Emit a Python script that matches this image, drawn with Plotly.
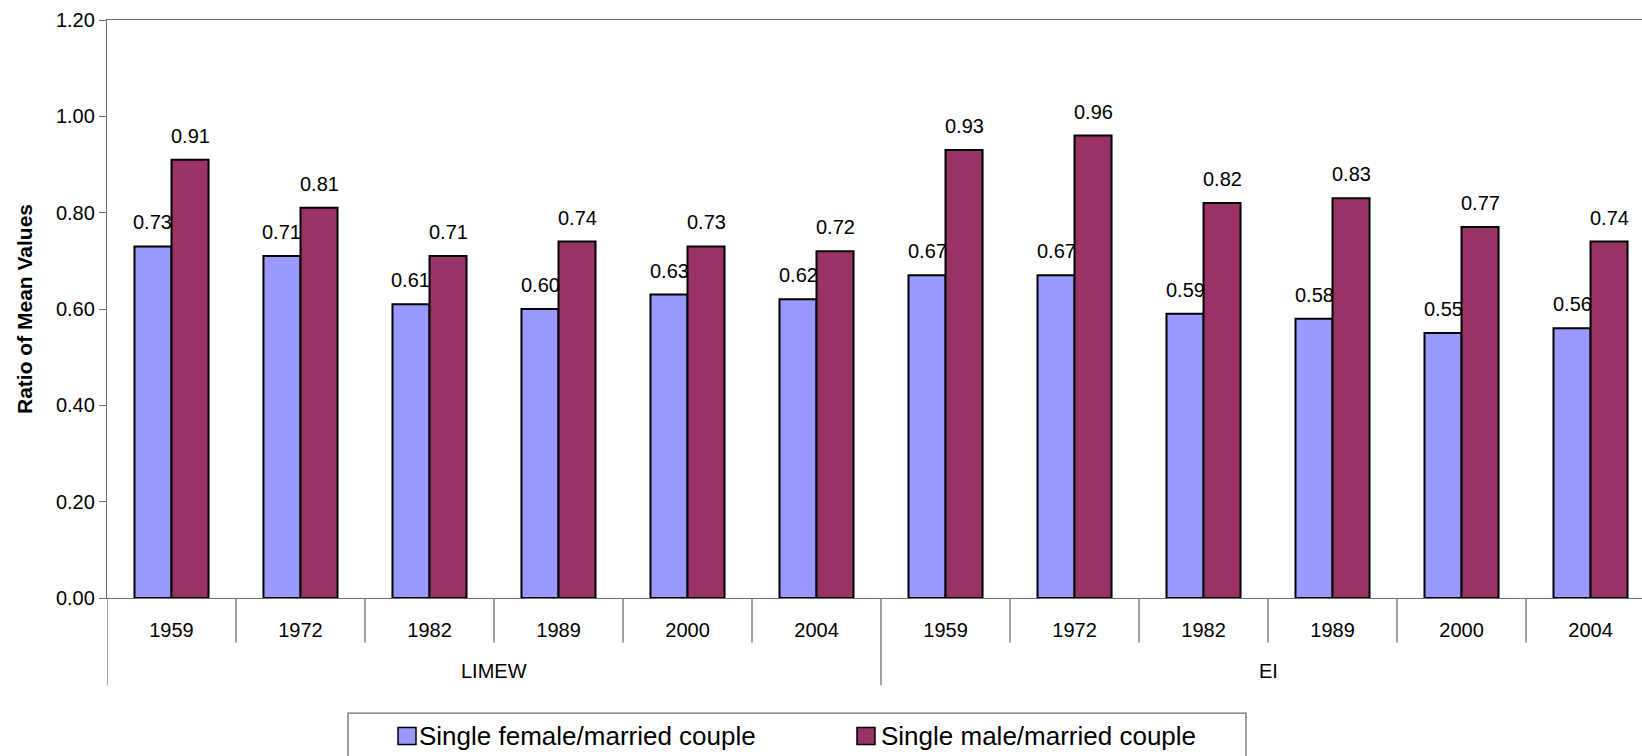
import plotly.graph_objects as go

# Category structure: two income measures, six survey years each
groups = ["LIMEW", "EI"]
years = ["1959", "1972", "1982", "1989", "2000", "2004"]

# Ratio of mean values, per group then year
female_ratio = [0.73, 0.71, 0.61, 0.60, 0.63, 0.62,
                0.67, 0.67, 0.59, 0.58, 0.55, 0.56]
male_ratio = [0.91, 0.81, 0.71, 0.74, 0.73, 0.72,
              0.93, 0.96, 0.82, 0.83, 0.77, 0.74]

series_names = ["Single female/married couple", "Single male/married couple"]
series_colors = ["#9999FF", "#993366"]

FONT = "Liberation Sans, Arial, sans-serif"
AXIS_GREY = "#6e6e6e"

n_cat = len(groups) * len(years)
positions = list(range(n_cat))
tick_text = years * len(groups)

BAR_GAP = 0.426
offset = (1 - BAR_GAP) / 4  # centre offset of each bar in a pair

fig = go.Figure()
for name, vals, col in zip(series_names, [female_ratio, male_ratio], series_colors):
    fig.add_trace(go.Bar(
        x=positions, y=vals, name=name,
        marker=dict(color=col, line=dict(color="black", width=2)),
        showlegend=False,
    ))

annotations = []
# value labels above each bar
for sign, vals in zip([-1, 1], [female_ratio, male_ratio]):
    for i, v in enumerate(vals):
        annotations.append(dict(
            x=i + sign * offset, y=v, xref="x", yref="y",
            text=f"{v:.2f}", showarrow=False, yanchor="bottom", yshift=11,
            font=dict(family=FONT, size=20, color="black"),
        ))

# group labels under the year labels
for g, name in enumerate(groups):
    centre = g * len(years) + (len(years) - 1) / 2
    annotations.append(dict(
        x=centre, y=-0.1264, xref="x", yref="paper", text=name,
        showarrow=False, yanchor="middle",
        font=dict(family=FONT, size=20, color="black"),
    ))

shapes = []
# separators between year categories and between groups
for b in range(n_cat + 1):
    is_group_edge = b % len(years) == 0
    shapes.append(dict(
        type="line", xref="x", yref="paper",
        x0=b - 0.5, x1=b - 0.5, y0=0, y1=-0.151 if is_group_edge else -0.0771,
        line=dict(color=AXIS_GREY, width=1.3),
    ))

# legend drawn as a framed row of swatches and labels
shapes.append(dict(type="rect", xref="paper", yref="paper",
                   x0=0.1570, x1=0.7420, y0=-0.1993, y1=-0.31,
                   line=dict(color=AXIS_GREY, width=1.3), fillcolor="white"))
legend_swatch_x = [(0.1896, 0.2013), (0.4886, 0.5003)]
legend_text_x = [0.2021, 0.5031]
for (sx0, sx1), tx, name, col in zip(legend_swatch_x, legend_text_x,
                                     series_names, series_colors):
    shapes.append(dict(type="rect", xref="paper", yref="paper",
                       x0=sx0, x1=sx1, y0=-0.2241, y1=-0.2535,
                       line=dict(color="black", width=1.5), fillcolor=col))
    annotations.append(dict(
        x=tx, y=-0.2388, xref="paper", yref="paper", text=name,
        showarrow=False, xanchor="left", yanchor="middle",
        font=dict(family=FONT, size=26, color="black"),
    ))

fig.update_layout(
    width=1642, height=756,
    margin=dict(l=107, r=0, t=20, b=157.6, pad=0),
    paper_bgcolor="white", plot_bgcolor="white",
    barmode="group", bargap=BAR_GAP, bargroupgap=0,
    font=dict(family=FONT, size=20, color="black"),
    annotations=annotations, shapes=shapes,
    showlegend=False,
)
fig.update_xaxes(
    range=[-0.5, 11.399], tickvals=positions, ticktext=tick_text,
    ticks="", showgrid=False, zeroline=False,
    showline=True, linecolor=AXIS_GREY, linewidth=1.3, mirror=True,
    tickfont=dict(family=FONT, size=20, color="black"),
    ticklabelstandoff=14,
)
fig.update_yaxes(
    range=[0, 1.2], dtick=0.2, tickformat=".2f",
    ticks="outside", ticklen=7, tickcolor=AXIS_GREY, tickwidth=1.3,
    showgrid=False, zeroline=False,
    showline=True, linecolor=AXIS_GREY, linewidth=1.3,
    tickfont=dict(family=FONT, size=20, color="black"),
    title=dict(text="<b>Ratio of Mean Values</b>", standoff=17,
               font=dict(family=FONT, size=21, color="black")),
)

fig.write_html("out.html")
